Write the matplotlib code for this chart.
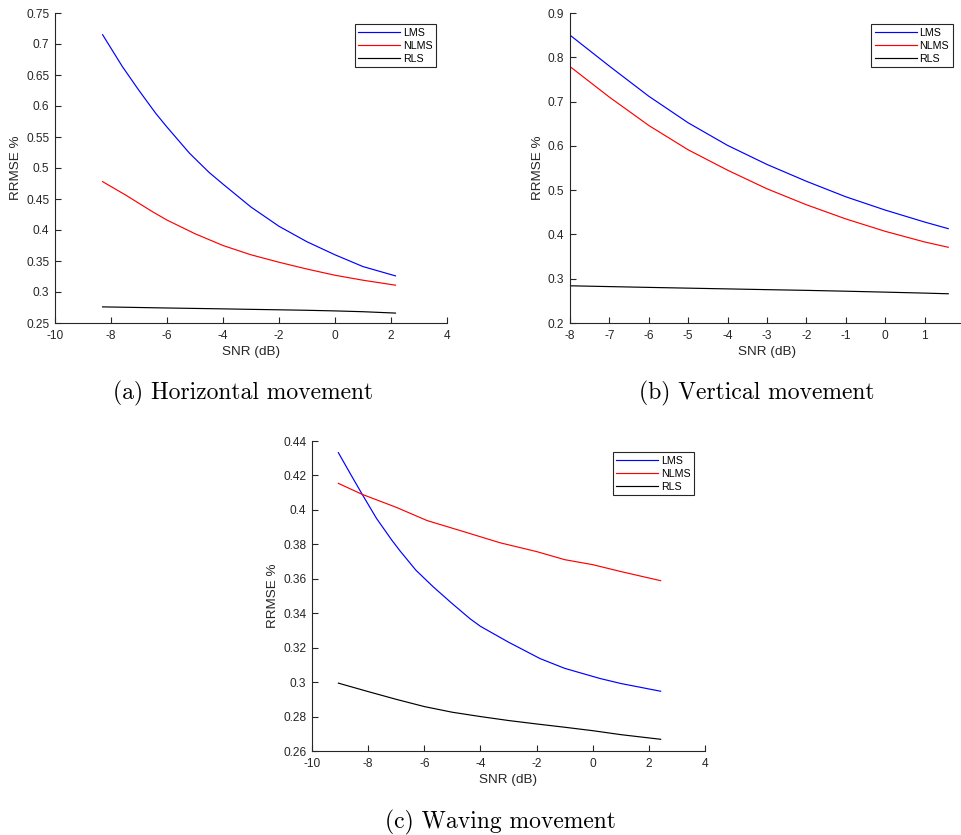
import matplotlib
matplotlib.use('Agg')
import matplotlib.pyplot as plt

plt.rcParams['font.family'] = ['Liberation Sans', 'DejaVu Sans']
plt.rcParams['axes.unicode_minus'] = False

# (a) Horizontal movement
snr_a = [-8.3, -7.6, -7, -6.4, -6, -5.2, -4.5, -4, -3, -2, -1, 0, 1, 2.16]
lms_a = [0.715, 0.664, 0.625, 0.588, 0.566, 0.524, 0.493, 0.474, 0.437, 0.406, 0.381, 0.360, 0.341, 0.326]
snr_a2 = [-8.3, -7.5, -7, -6.5, -6, -5, -4, -3, -2, -1, 0, 1, 2.16]
nlms_a = [0.478, 0.457, 0.443, 0.429, 0.416, 0.394, 0.375, 0.360, 0.348, 0.337, 0.327, 0.319, 0.311]
rls_a = [0.276, 0.2754, 0.275, 0.2746, 0.2742, 0.2735, 0.2728, 0.272, 0.2713, 0.2705, 0.2695, 0.2682, 0.266]

# (b) Vertical movement
snr_b = [-8, -7, -6, -5, -4, -3, -2, -1, 0, 1, 1.6]
lms_b = [0.850, 0.780, 0.712, 0.652, 0.601, 0.558, 0.520, 0.485, 0.455, 0.428, 0.413]
nlms_b = [0.779, 0.710, 0.646, 0.591, 0.545, 0.503, 0.467, 0.435, 0.407, 0.383, 0.371]
rls_b = [0.284, 0.2822, 0.2804, 0.2787, 0.277, 0.2753, 0.2737, 0.2718, 0.2697, 0.2675, 0.266]

# (c) Waving movement
snr_c = [-9.06, -8.6, -8.21, -7.7, -7.16, -6.87, -6.3, -5.68, -5, -4.37, -4, -3, -1.88, -1, 0.26, 1, 2.42]
lms_c = [0.4332, 0.420, 0.409, 0.395, 0.3825, 0.3763, 0.3650, 0.3553, 0.3455, 0.3368, 0.3324, 0.3232,
         0.3137, 0.3080, 0.3021, 0.2992, 0.2947]
snr_c2 = [-9.06, -8.21, -7, -5.9, -4.5, -3.3, -2, -1, 0, 1, 2.42]
nlms_c = [0.4154, 0.409, 0.4015, 0.3938, 0.3869, 0.3809, 0.3758, 0.3711, 0.3682, 0.3642, 0.3589]
snr_c3 = [-9.06, -8, -7, -6, -5, -4, -3, -2, -1, 0, 1, 2.42]
rls_c = [0.2994, 0.2945, 0.290, 0.2858, 0.2825, 0.280, 0.2777, 0.2757, 0.2738, 0.2718, 0.2695, 0.2668]

W, H = 962, 835
fig = plt.figure(figsize=(W / 100, H / 100), dpi=100)


def make_axes(left, right, top, bottom):
    return fig.add_axes([left / W, 1 - bottom / H, (right - left) / W, (bottom - top) / H])


def fmt(v):
    return ('%.2f' % v).rstrip('0').rstrip('.')


def draw(ax, series, xlim, ylim, xticks, yticks):
    for (x, y), c, name in zip(series, ['#0000ff', '#ff0000', 'black'], ['LMS', 'NLMS', 'RLS']):
        ax.plot(x, y, color=c, lw=0.85, label=name)
    ax.set_xlim(xlim)
    ax.set_ylim(ylim)
    ax.set_xticks(xticks)
    ax.set_yticks(yticks)
    ax.set_yticklabels([fmt(v) for v in yticks])
    for s in ['top', 'right']:
        ax.spines[s].set_visible(False)
    for s in ['left', 'bottom']:
        ax.spines[s].set_color('#262626')
        ax.spines[s].set_linewidth(0.8)
    ax.tick_params(direction='in', length=4, width=0.8, colors='#262626', labelsize=8.6)
    ax.tick_params(axis='x', pad=5)
    ax.tick_params(axis='y', pad=4)
    ax.set_xlabel('SNR (dB)', fontsize=9.7, color='#262626', labelpad=3)
    ax.set_ylabel('RRMSE %', fontsize=9.7, color='#262626', labelpad=3)
    leg = ax.legend(loc='upper right', bbox_to_anchor=(0.972, 0.965), fontsize=7.7,
                    handlelength=3.9, handletextpad=0.25, borderpad=0.35, labelspacing=0.28,
                    fancybox=False, framealpha=1, borderaxespad=0)
    leg.get_frame().set_edgecolor('#262626')
    leg.get_frame().set_linewidth(0.8)


ax_a = make_axes(55, 447, 13, 323)
draw(ax_a, [(snr_a, lms_a), (snr_a2, nlms_a), (snr_a2, rls_a)], (-10, 4), (0.25, 0.75),
     range(-10, 5, 2), [0.25 + 0.05 * i for i in range(11)])

ax_b = make_axes(570, 964, 13, 323)
draw(ax_b, [(snr_b, lms_b), (snr_b, nlms_b), (snr_b, rls_b)], (-8, 2), (0.2, 0.9),
     range(-8, 3), [0.2 + 0.1 * i for i in range(8)])

ax_c = make_axes(312, 705, 441, 751)
draw(ax_c, [(snr_c, lms_c), (snr_c2, nlms_c), (snr_c3, rls_c)], (-10, 4), (0.26, 0.44),
     range(-10, 5, 2), [0.26 + 0.02 * i for i in range(10)])

cap = dict(family='cmr10', fontsize=17, ha='center', va='center')
fig.text(243 / W, 1 - 393 / H, '(a) Horizontal movement', **cap)
fig.text(757 / W, 1 - 393 / H, '(b) Vertical movement', **cap)
fig.text(500 / W, 1 - 822 / H, '(c) Waving movement', **cap)

fig.savefig('out.png', dpi=100)
